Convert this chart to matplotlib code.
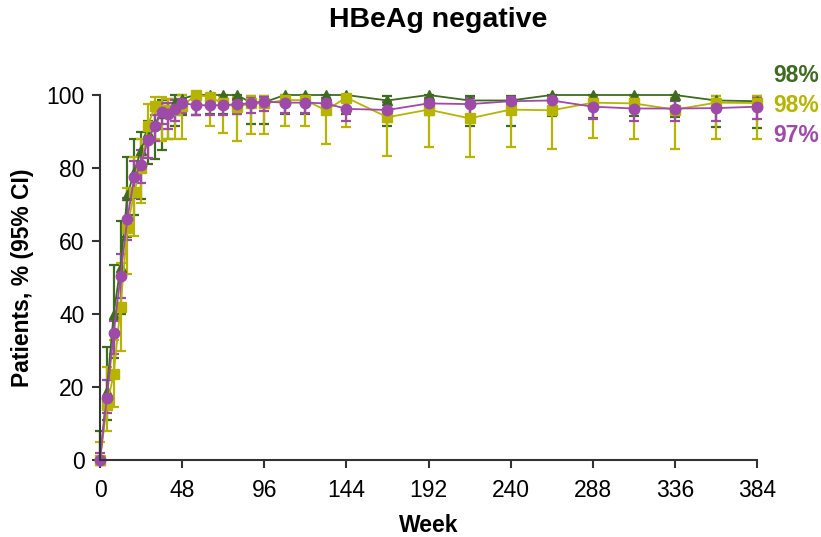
import numpy as np
import matplotlib
matplotlib.use("Agg")
import matplotlib.pyplot as plt

plt.rcParams['font.family'] = ['Liberation Sans', 'DejaVu Sans']

weeks = [0, 4, 8, 12, 16, 20, 24, 28, 32, 36, 40, 44, 48, 56, 64, 72, 80, 88, 96,
         108, 120, 132, 144, 168, 192, 216, 240, 264, 288, 312, 336, 360, 384]

green_pct = [0, 19, 40, 53, 72.5, 79, 85, 90, 92, 95, 96, 98, 99,
             100, 100, 100, 100, 98, 98, 100, 100, 100, 100,
             98.5, 100, 98.5, 98.5, 100, 100, 100, 100, 98.5, 98.3]
green_lo = [0, 11, 28, 40, 61, 67, 71.5, 81, 82.5, 85, 88, 91.5, 94.5,
            94.5, 94.7, 94.7, 94.7, 92, 92, 94.7, 94.7, 94.7, 94.7,
            91.6, 94.7, 91.6, 91.6, 94.3, 93.8, 94.3, 94, 91.3, 91]
green_hi = [8, 31, 53.5, 65.5, 83, 88, 90, 93, 96.5, 98.5, 99, 100, 100,
            100, 100, 100, 100, 99.8, 99.8, 100, 100, 100, 100,
            99.8, 100, 99.8, 99.8, 100, 100, 100, 100, 99.8, 99.8]

yellow_pct = [0, 15, 23.5, 42, 63.5, 73.5, 80, 91.5, 97, 96, 96, 96, 97,
              100, 99.5, 97.7, 96.7, 97.7, 97.7, 98.6, 98.6, 95.8, 99.3,
              93.9, 96, 93.6, 96, 95.8, 97.9, 97.7, 96, 97.9, 97.8]
yellow_lo = [0, 8, 14.6, 30, 51, 61.5, 70.5, 82.7, 88, 87.5, 88, 88, 88,
             94.5, 91.6, 89.5, 87.3, 89.2, 89.4, 91.6, 91.6, 86.7, 91.3,
             83.4, 85.8, 83.1, 85.8, 85.3, 88.3, 88, 85.3, 88, 88]
yellow_hi = [5, 25.5, 33, 54, 74.5, 83, 88, 97.5, 99.5, 99.5, 99, 99, 100,
             100, 100, 99.8, 99.5, 99.8, 99.8, 100, 100, 99.3, 100,
             98, 99.3, 97.8, 99.3, 99.3, 99.8, 99.8, 99.3, 99.8, 99.8]

purple_pct = [0, 17.1, 34.7, 50.5, 66.1, 77.4, 80.8, 87.8, 91.4, 95.3, 94.8, 96.3, 97.8,
              97.2, 97.2, 97.2, 97.5, 97.7, 98.2, 97.9, 97.9, 97.7, 96.2,
              95.9, 97.7, 97.5, 98.3, 98.5, 96.8, 96.3, 96.3, 96.4, 96.8]
purple_lo = [0, 12.8, 29, 44.4, 60.2, 71.9, 76, 82.7, 87.3, 92, 90.6, 93, 95,
             94.5, 94.5, 94.5, 94.7, 95, 95.5, 95, 95, 95, 93,
             92.5, 94.5, 94.5, 95.5, 95.7, 93.5, 93, 93, 93, 93.4]
purple_hi = [2, 21.9, 38, 56.4, 71.7, 82, 85, 91.6, 94.4, 97.7, 97.7, 98.6, 99,
             98.8, 98.8, 98.8, 99, 99.2, 99.4, 99.3, 99.3, 99.2, 98.3,
             98.2, 99.2, 99.2, 99.5, 99.6, 98.6, 98.3, 98.3, 98.4, 99.3]

end_labels = ['98%', '98%', '97%']

green = '#3d6b1f'
yellow = '#b7b400'
purple = '#9e4aa8'

fig = plt.figure(figsize=(8.21, 5.37), dpi=100)
ax = fig.add_axes([100 / 821, 77 / 537, 657 / 821, 365 / 537])

series = [
    (green_pct, green_lo, green_hi, green, '^', 7.5),
    (yellow_pct, yellow_lo, yellow_hi, yellow, 's', 6.5),
    (purple_pct, purple_lo, purple_hi, purple, 'o', 7.5),
]
for pct, lo, hi, col, mk, ms in series:
    pct = np.array(pct)
    yerr = [pct - np.array(lo), np.array(hi) - pct]
    eb = ax.errorbar(weeks, pct, yerr=yerr, color=col, marker=mk, markersize=ms,
                     linewidth=1.3, elinewidth=1.6, capsize=3.5, capthick=1.6,
                     clip_on=False)
    for art in eb.lines[1] + eb.lines[2]:
        art.set_clip_on(False)
    eb.lines[0].set_clip_on(False)

ax.set_xlim(0, 384)
ax.set_ylim(0, 100)
ax.set_xticks(range(0, 385, 48))
ax.set_yticks(range(0, 101, 20))
for s in ['top', 'right']:
    ax.spines[s].set_visible(False)
for s in ['left', 'bottom']:
    ax.spines[s].set_linewidth(1.5)
    ax.spines[s].set_color('#333333')
ax.tick_params(axis='both', length=6, width=1.5, color='#333333', labelsize=16.5, pad=5)
ax.tick_params(axis='x', pad=8)

ax.set_xlabel('Week', fontsize=16.5, fontweight='bold', labelpad=8)
ax.set_ylabel('Patients, % (95% CI)', fontsize=16.5, fontweight='bold', labelpad=9)
fig.text(438 / 821, 1 - 20 / 537, 'HBeAg negative', ha='center', va='center',
         fontsize=20.5, fontweight='bold')

label_y = [76, 105, 135]
for txt, col, yy in zip(end_labels, [green, yellow, purple], label_y):
    fig.text(773 / 821, 1 - yy / 537, txt, color=col, ha='left', va='center',
             fontsize=16.5, fontweight='bold')

fig.savefig('out.png', dpi=100)
